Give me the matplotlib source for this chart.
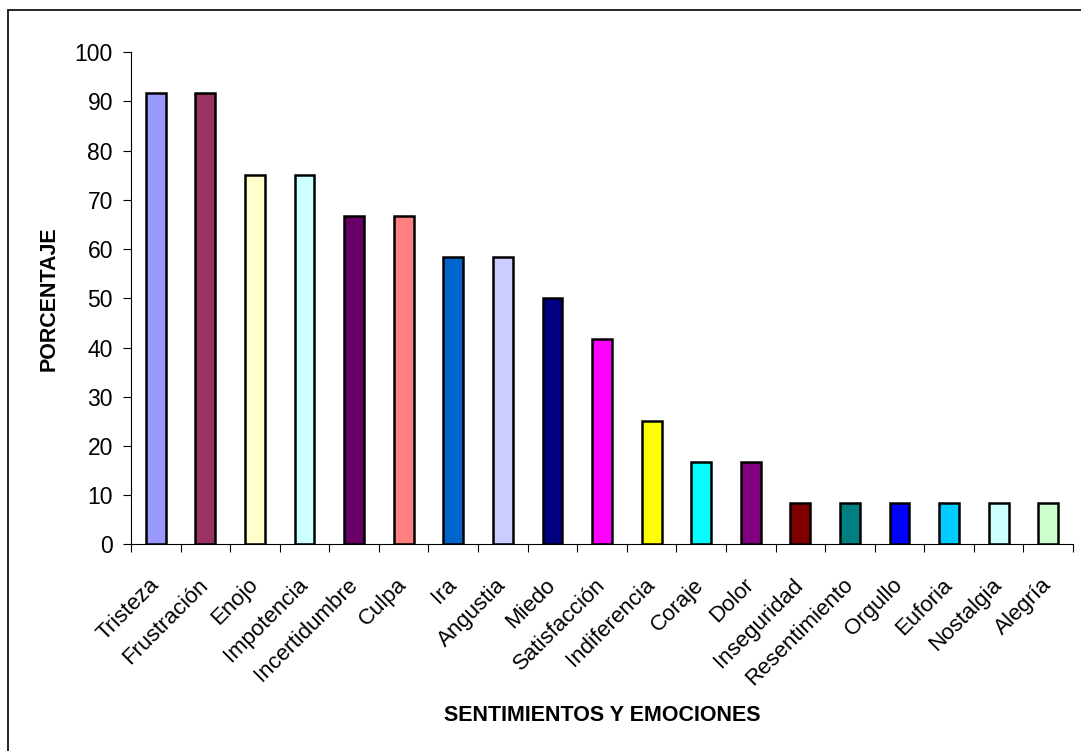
import matplotlib
matplotlib.use("Agg")
import matplotlib.pyplot as plt
from matplotlib.patches import Rectangle
from matplotlib.ticker import FixedLocator
from matplotlib.transforms import ScaledTranslation
import numpy as np

emociones = ["Tristeza", "Frustración", "Enojo", "Impotencia", "Incertidumbre",
             "Culpa", "Ira", "Angustia", "Miedo", "Satisfacción", "Indiferencia",
             "Coraje", "Dolor", "Inseguridad", "Resentimiento", "Orgullo",
             "Euforia", "Nostalgia", "Alegría"]
porcentaje = [91.67, 91.67, 75.0, 75.0, 66.67, 66.67, 58.33, 58.33, 50.0, 41.67,
              25.0, 16.67, 16.67, 8.33, 8.33, 8.33, 8.33, 8.33, 8.33]
colores = ["#9999FF", "#993366", "#FFFFCC", "#CCFFFF", "#660066", "#FF8080",
           "#0066CC", "#CCCCFF", "#000080", "#FF00FF", "#FFFF00", "#00FFFF",
           "#800080", "#800000", "#008080", "#0000FF", "#00CCFF", "#CCFFFF",
           "#CCFFCC"]

plt.rcParams["font.family"] = ["Liberation Sans", "DejaVu Sans"]

fig = plt.figure(figsize=(10.81, 7.51), dpi=100)
ax = fig.add_axes([0.1212, 0.2752, 0.8714, 0.6552])

# marco del grafico (abierto por la derecha y por abajo)
fig.patches.append(Rectangle((8 / 1081, -0.2), 1.2, 1.2 - 9.5 / 751,
                             transform=fig.transFigure, fill=False,
                             edgecolor="black", linewidth=1.2, zorder=0))

x = np.arange(len(emociones))
ax.bar(x, porcentaje, width=0.4, color=colores, edgecolor="black", linewidth=1.8)

ax.set_xlim(-0.5, len(emociones) - 0.5)
ax.set_ylim(0, 100)
ax.set_yticks(range(0, 101, 10))

ax.spines["top"].set_visible(False)
ax.spines["right"].set_visible(False)
ax.spines["left"].set_linewidth(0.8)
ax.spines["bottom"].set_linewidth(0.8)

ax.set_xticks(x)
ax.set_xticklabels(emociones, rotation=45, ha="right", va="center",
                   rotation_mode="anchor", fontsize=16)
# correr las etiquetas un poco a la izquierda
desplaza = ScaledTranslation(-7 / 100, 0, fig.dpi_scale_trans)
for lbl in ax.get_xticklabels():
    lbl.set_transform(lbl.get_transform() + desplaza)
ax.xaxis.set_minor_locator(FixedLocator(np.arange(-0.5, len(emociones), 1.0)))
ax.tick_params(axis="x", which="major", length=0, pad=27)
ax.tick_params(axis="x", which="minor", length=6, width=0.8, direction="out")
ax.tick_params(axis="y", length=6, width=0.8, direction="out", labelsize=16.5, pad=7)

ax.set_ylabel("PORCENTAJE", fontsize=15.5, fontweight="bold")
ax.yaxis.set_label_coords(-0.0754, 0.5)
ax.set_xlabel("SENTIMIENTOS Y EMOCIONES", fontsize=15.5, fontweight="bold")
ax.xaxis.set_label_coords(0.5, -0.3266)

fig.savefig("out.png", dpi=100)
